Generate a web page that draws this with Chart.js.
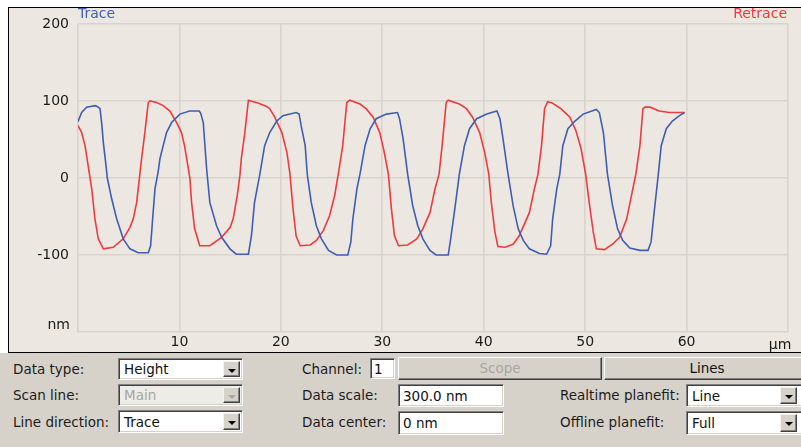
<!DOCTYPE html>
<html>
<head>
<meta charset="utf-8">
<script src="https://cdn.jsdelivr.net/npm/chart.js@4.4.1/dist/chart.umd.min.js"></script>
<style>
  html, body { margin: 0; padding: 0; background: #ffffff; }
  body { width: 801px; height: 447px; position: relative; overflow: hidden; font-family: "DejaVu Sans", sans-serif; }
  #frame { position: absolute; left: 8px; top: 7px; width: 800px; height: 344px;
           background: #ECE8E1; border-left: 1px solid #000; border-top: 1px solid #000; border-bottom: 1px solid #000; }
  #plot { position: absolute; left: 0; top: 0; }
  #panel { position: absolute; left: 0; top: 353px; width: 801px; height: 94px; background: #D6D2CA; }
  .lbl { position: absolute; font-size: 13.5px; line-height: 16px; color: #1c1c1c; white-space: nowrap; }
  .field { position: absolute; background: #fff; box-sizing: border-box;
           border-top: 1px solid #808080; border-left: 1px solid #808080;
           border-right: 1px solid #ffffff; border-bottom: 1px solid #ffffff;
           box-shadow: inset 1px 1px 0 #404040, inset -1px -1px 0 #D6D2CA; }
  .field span { position: absolute; left: 5px; top: 50%; transform: translateY(-50%);
                font-size: 13.5px; line-height: 16px; color: #111; white-space: nowrap; }
  .field.off { background: #EEECE6; }
  .field.off span { color: #A8A6A0; }
  .drop { position: absolute; top: 2px; bottom: 2px; width: 17px; background: #D6D2CA; box-sizing: border-box;
          border-top: 1px solid #F4F2EE; border-left: 1px solid #F4F2EE;
          border-right: 1px solid #404040; border-bottom: 1px solid #404040;
          box-shadow: inset -1px -1px 0 #808080; }
  .drop::after { content: ""; position: absolute; left: 4px; top: 7px;
                 border-left: 4px solid transparent; border-right: 4px solid transparent; border-top: 4px solid #000; }
  .drop.off::after { border-top-color: #A8A6A0; }
  .btn { position: absolute; background: #D6D2CA; box-sizing: border-box; text-align: center;
         border-top: 1px solid #FFFFFF; border-left: 1px solid #FFFFFF;
         border-right: 1px solid #404040; border-bottom: 1px solid #404040;
         box-shadow: inset -1px -1px 0 #808080;
         font-size: 13.5px; color: #111; }
  .btn.off { color: #A8A6A0; }
</style>
</head>
<body>
<div id="frame"></div>
<canvas id="plot" width="801" height="353"></canvas>

<div id="panel"></div>
<div class="lbl" style="left:13px; top:361px;">Data type:</div>
<div class="lbl" style="left:13px; top:387px;">Scan line:</div>
<div class="lbl" style="left:13px; top:414px;">Line direction:</div>

<div class="field" style="left:118px; top:358px; width:125px; height:22px;"><span>Height</span><div class="drop" style="right:2px;"></div></div>
<div class="field off" style="left:118px; top:384px; width:125px; height:22px;"><span>Main</span><div class="drop off" style="right:2px;"></div></div>
<div class="field" style="left:118px; top:410px; width:125px; height:23px;"><span>Trace</span><div class="drop" style="right:2px;"></div></div>

<div class="lbl" style="left:302px; top:361px;">Channel:</div>
<div class="field" style="left:370px; top:358px; width:25px; height:21px;"><span style="left:3px;">1</span></div>
<div class="btn off" style="left:398px; top:357px; width:204px; height:23px; line-height:21px;">Scope</div>
<div class="btn" style="left:604px; top:357px; width:206px; height:23px; line-height:21px;">Lines</div>

<div class="lbl" style="left:302px; top:387px;">Data scale:</div>
<div class="field" style="left:398px; top:384px; width:106px; height:23px;"><span style="left:4px;">300.0 nm</span></div>
<div class="lbl" style="left:302px; top:414px;">Data center:</div>
<div class="field" style="left:398px; top:411px; width:106px; height:24px;"><span style="left:4px;">0 nm</span></div>

<div class="lbl" style="left:560px; top:387px;">Realtime planefit:</div>
<div class="field" style="left:686px; top:384px; width:122px; height:23px;"><span>Line</span><div class="drop" style="left:93px;"></div></div>
<div class="lbl" style="left:560px; top:414px;">Offline planefit:</div>
<div class="field" style="left:686px; top:411px; width:122px; height:24px;"><span>Full</span><div class="drop" style="left:93px;"></div></div>

<script>
// Scan position along the line (µm) and measured height (nm), trace direction
const traceX = [0, 0.36, 0.85, 1.67, 1.9, 2.17, 2.33, 2.5, 2.76, 2.89, 3.32, 3.81, 4.46, 5.12, 5.94, 6.93, 7.16, 7.36, 7.59, 7.9,
  8.08, 8.4, 8.73, 9.23, 10.05, 11.0, 11.95, 12.1, 12.35, 12.68, 13.0, 13.66, 14.16, 14.98, 15.6, 16.8, 17.1, 17.4, 17.93,
  18.4, 18.9, 19.6, 20.2, 21.5, 21.8, 22.0, 22.4, 22.6, 23.0, 23.5, 24.0, 24.7, 25.5, 26.6, 26.9, 27.1, 27.5, 27.8,
  28.3, 28.8, 29.4, 30.4, 31.5, 31.7, 32.05, 32.5, 33.0, 33.5, 34.0, 34.7, 35.3, 36.5, 36.7, 37.1, 37.6,
  38.1, 38.6, 39.3, 40.3, 41.3, 41.6, 41.9, 42.4, 42.9, 43.4, 43.9, 44.5, 45.5, 46.2, 46.6, 46.8, 47.2, 47.5,
  47.8, 48.3, 49.0, 49.8, 51.1, 51.4, 51.8, 52.2, 52.7, 53.2, 53.7, 54.4, 55.4, 56.2, 56.5, 56.8, 57.2,
  57.5, 58.0, 58.6, 59.3, 59.8];
const traceY = [73, 85, 92, 94, 93, 90, 72, 46, 16, 0, -27, -53, -79, -92, -97, -97, -88, -53, -14, 8,
  25, 42, 59, 72, 83, 87, 87, 84, 72, 12, -32, -62, -77, -92, -99, -99, -75, -32, 5,
  42, 59, 74, 81, 85, 83, 68, 42, 5, -32, -62, -79, -94, -100, -100, -83, -53, -14, 5,
  42, 64, 77, 83, 85, 77, 51, 5, -36, -62, -79, -94, -100, -100, -83, -45, 5,
  42, 64, 77, 83, 87, 77, 51, 5, -36, -66, -81, -92, -98, -99, -88, -53, -14, 5,
  42, 64, 74, 83, 89, 85, 59, 5, -36, -66, -81, -91, -94, -94, -83, -45, 3,
  42, 64, 74, 81, 85];

// Same line, retrace direction
const retraceX = [0, 0.36, 0.69, 1.0, 1.35, 1.67, 2.0, 2.5, 3.48, 4.46, 5.12, 5.45, 5.78, 6.1, 6.27, 6.6, 6.93, 7.09,
  7.75, 8.4, 9.06, 9.72, 10.2, 10.5, 11.03, 11.2, 11.5, 12.0, 13.0, 14.16, 15.0, 15.3, 15.7, 15.96, 16.1, 16.45, 16.8,
  17.8, 18.6, 18.9, 19.4, 20.1, 20.6, 20.9, 21.2, 21.5, 21.9, 22.9, 23.5, 24.2, 24.8, 25.3, 25.7, 26.1, 26.5, 26.8,
  27.8, 28.4, 29.1, 29.75, 30.2, 30.6, 30.9, 31.2, 31.6, 32.5, 33.4, 34.0, 34.7, 35.2, 35.6, 35.9, 36.3, 36.5,
  37.6, 38.3, 38.9, 39.6, 40.1, 40.5, 40.75, 41.1, 41.4, 42.1, 42.9, 43.5, 44.5, 45.0, 45.35, 45.7, 46.0, 46.3,
  46.8, 47.6, 48.5, 49.1, 49.6, 50.05, 50.4, 50.8, 51.1, 51.9, 52.7, 53.4, 54.1, 54.5, 55.0, 55.4, 55.7, 55.9,
  56.4, 57.3, 58.3, 59.8];
const retraceY = [68, 59, 42, 16, -14, -53, -79, -92, -90, -79, -64, -53, -32, 5, 25, 60, 98, 100,
  98, 94, 87, 72, 59, 42, 0, -32, -66, -88, -88, -77, -64, -53, -23, 3, 25, 59, 101,
  97, 93, 90, 79, 59, 33, 5, -40, -75, -88, -87, -81, -68, -49, -23, 8, 42, 98, 101,
  96, 90, 79, 59, 33, 5, -40, -75, -88, -87, -79, -66, -45, -14, 5, 42, 98, 101,
  96, 90, 79, 59, 33, 5, -32, -70, -89, -90, -86, -75, -45, -14, 5, 42, 90, 99,
  97, 90, 79, 61, 38, 5, -32, -70, -92, -93, -86, -77, -53, -27, 5, 42, 90, 92,
  92, 87, 85, 85];

// Axis ticks; the outermost ones carry the unit names instead of numbers
const xTicks = [0, 10, 20, 30, 40, 50, 60, 70];
const yTicks = [-200, -100, 0, 100, 200];
const xUnit = 'µm';
const yUnit = 'nm';
const traceName = 'Trace';
const retraceName = 'Retrace';

const BLUE = '#3F5EB3';
const RED = '#EF3A3E';
const TICK_FONT = { family: 'DejaVu Sans', size: 14 };

const pairs = (xs, ys) => xs.map((x, i) => ({ x, y: ys[i] }));

// Draws the direction names and the unit labels
const annotations = {
  id: 'annotations',
  afterDraw(chart) {
    const { ctx, chartArea, scales } = chart;
    ctx.save();
    ctx.font = '14px "DejaVu Sans"';
    ctx.textBaseline = 'middle';
    ctx.fillStyle = BLUE;
    ctx.textAlign = 'left';
    ctx.fillText(traceName, chartArea.left, 14);
    ctx.fillStyle = RED;
    ctx.textAlign = 'right';
    ctx.fillText(retraceName, chartArea.right - 1, 14);
    ctx.fillStyle = '#1a1a1a';
    ctx.textAlign = 'right';
    ctx.fillText(yUnit, scales.y.right - 8, scales.y.getPixelForValue(yTicks[0]) - 7);
    ctx.textAlign = 'center';
    ctx.fillText(xUnit, scales.x.getPixelForValue(xTicks[xTicks.length - 1]) - 8, 345);
    ctx.restore();
  }
};

new Chart(document.getElementById('plot'), {
  type: 'line',
  data: {
    datasets: [
      { label: traceName, data: pairs(traceX, traceY), borderColor: BLUE, borderWidth: 1.6,
        pointRadius: 0, tension: 0, fill: false },
      { label: retraceName, data: pairs(retraceX, retraceY), borderColor: RED, borderWidth: 1.6,
        pointRadius: 0, tension: 0, fill: false }
    ]
  },
  options: {
    responsive: false,
    animation: false,
    devicePixelRatio: 1,
    layout: { padding: { top: 24, right: 13, left: 0, bottom: 0 } },
    plugins: { legend: { display: false }, tooltip: { enabled: false } },
    scales: {
      x: {
        type: 'linear', min: xTicks[0], max: xTicks[xTicks.length - 1],
        afterBuildTicks: s => { s.ticks = xTicks.map(v => ({ value: v })); },
        afterFit: s => { s.height = 21; },
        border: { display: false },
        grid: { color: '#D8D4CC', lineWidth: 1.6, drawTicks: false },
        ticks: {
          padding: 2, color: '#1a1a1a', font: TICK_FONT, maxRotation: 0, autoSkip: false,
          callback: v => (v === xTicks[0] || v === xTicks[xTicks.length - 1]) ? '' : String(v)
        }
      },
      y: {
        min: yTicks[0], max: yTicks[yTicks.length - 1],
        afterBuildTicks: s => { s.ticks = yTicks.map(v => ({ value: v })); },
        afterFit: s => { s.width = 78; },
        border: { display: false },
        grid: { color: '#D8D4CC', lineWidth: 1.6, drawTicks: false },
        ticks: {
          padding: 9, color: '#1a1a1a', font: TICK_FONT, autoSkip: false,
          callback: v => v === yTicks[0] ? '' : String(v)
        }
      }
    }
  },
  plugins: [annotations]
});
</script>
</body>
</html>
